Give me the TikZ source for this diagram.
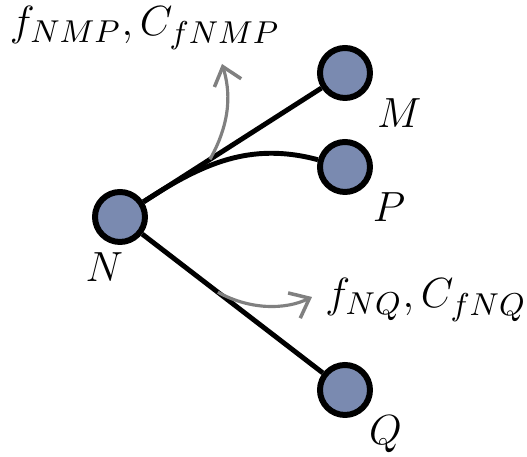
\documentclass[tikz,border=0pt]{standalone}
\usepackage{amsmath}
\usepackage{xcolor}
\usepackage{tikz}
\usetikzlibrary{arrows.meta, positioning, calc}

\definecolor{nodeblue}{RGB}{122,138,176}
\definecolor{flowgray}{RGB}{128,128,128}

\begin{document}
\begin{tikzpicture}[
    station/.style={circle, draw=black, line width=1.7pt, fill=nodeblue, minimum size=0.5cm, inner sep=0pt},
    link/.style={line width=1.4pt},
    flow/.style={draw=flowgray, line width=0.9pt, -{Straight Barb[length=1.7mm, width=2.8mm, line width=1pt]}},
    lbl/.style={font=\fontsize{12.6}{15}\selectfont, inner sep=1pt}
  ]
          \useasboundingbox (0,0) rectangle (5.27,4.57);

          \node[station] (N) at (1.20,2.40) {};
          \node[station] (M) at (3.45,3.84) {};
          \node[station] (P) at (3.45,2.90) {};
          \node[station] (Q) at (3.45,0.67) {};

          \draw[link] (N) -- (M);
          \draw[link] (N) to[out=33, in=165] (P);
          \draw[link] (N) -- (Q);

          \node[lbl, below right=0.02cm and 0.08cm of M] {$M$};
          \node[lbl, below right=0.02cm and 0.04cm of P] {$P$};
          \node[lbl, below right=0.02cm and 0.0cm of Q] {$Q$};
          \node[lbl, below left=0.12cm and -0.27cm of N] {$N$};

          % flow labels
          \node[lbl] (fnmp) at (1.45,4.29) {$f_{NMP}, C_{fNMP}$};
          \node[lbl] (fnq) at (4.26,1.57) {$f_{NQ}, C_{fNQ}$};

          \coordinate (a1) at ($(N)!0.4!(M)$);
          \coordinate (b1) at (2.22,3.93);
          \coordinate (a2) at ($(N)!0.435!(Q)$);
          \coordinate (b2) at (3.12,1.60);

          \draw[flow] (a1) .. controls (2.32,3.37) and (2.30,3.67) .. (b1);
          \draw[flow] (a2) .. controls (2.50,1.47) and (2.85,1.47) .. (b2);
        \end{tikzpicture}
\end{document}
